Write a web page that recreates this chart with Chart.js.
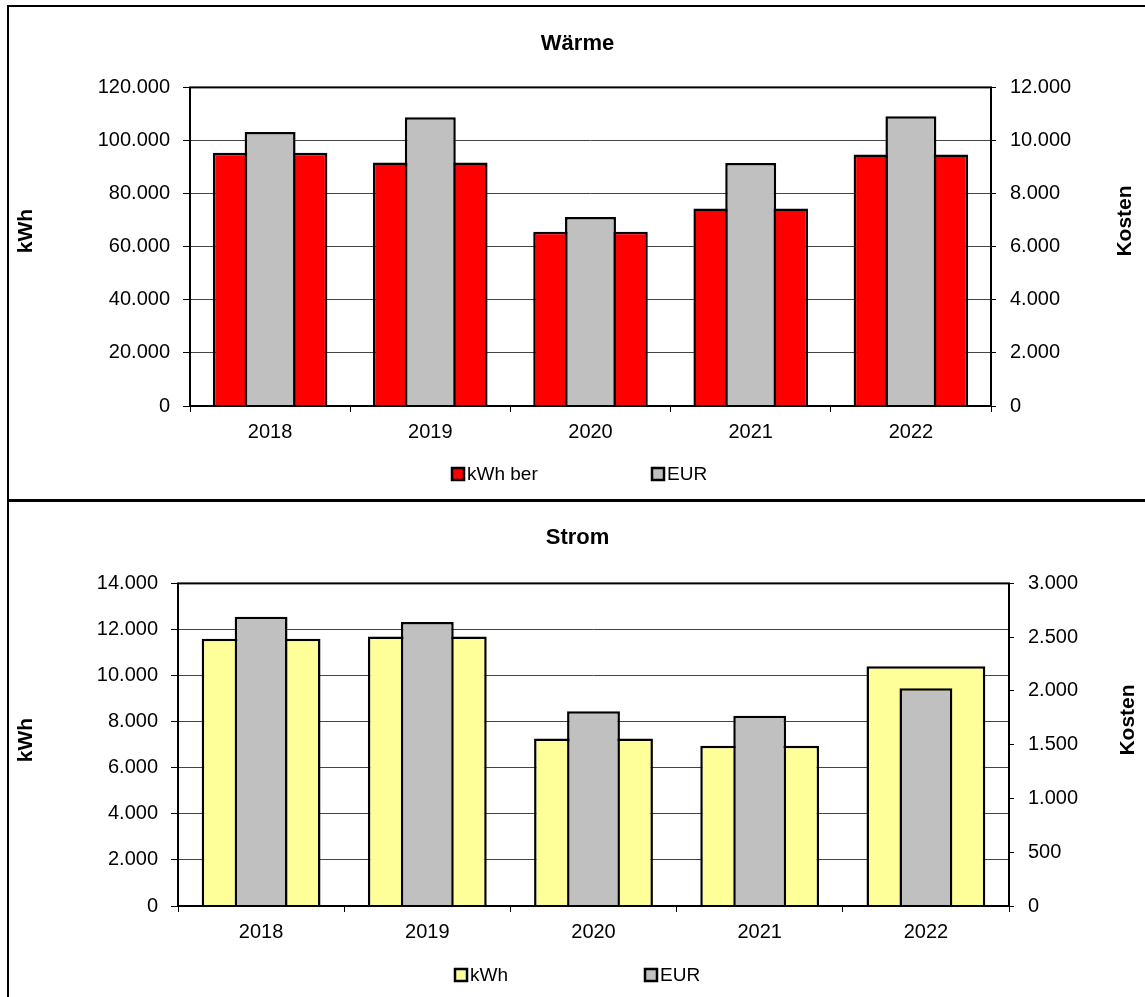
<!DOCTYPE html>
<html>
<head>
<meta charset="utf-8">
<script src="https://cdn.jsdelivr.net/npm/chart.js@4.4.1/dist/chart.umd.min.js"></script>
<style>
  html, body { margin: 0; padding: 0; background: #fff; overflow: hidden; }
  body { width: 1145px; height: 997px; position: relative; }
  canvas { position: absolute; left: 0; }
  #c1 { top: 0; }
  #c2 { top: 500px; }
  .frame { position: absolute; border: 2px solid #000; box-sizing: border-box; }
</style>
</head>
<body>
<div class="frame" style="left:7px; top:5px; width:1200px; height:497px;"></div>
<div class="frame" style="left:7px; top:499px; width:1200px; height:600px;"></div>
<canvas id="c1" width="1145" height="500"></canvas>
<canvas id="c2" width="1145" height="497"></canvas>
<script>
// data
const years = ["2018", "2019", "2020", "2021", "2022"];
const waermeKwh = [95400, 91700, 65600, 74400, 94700];
const waermeEur = [10320, 10880, 7120, 9150, 10910];
const stromKwh = [11600, 11700, 7270, 6950, 10400];
const stromEur = [2690, 2640, 1810, 1770, 2025];

Chart.defaults.font.family = "'Liberation Sans', Arial, sans-serif";
Chart.defaults.font.size = 20;
Chart.defaults.color = "#000";

// 120000 -> "120.000"
function fmt(v) {
  return String(v).replace(/\B(?=(\d{3})+(?!\d))/g, ".");
}

// frame of the plot area, axis titles and legend like the excel chart
const decor = {
  id: "decor",
  afterDatasetsDraw(chart, args, opts) {
    const ctx = chart.ctx;
    const a = chart.chartArea;
    ctx.save();
    ctx.strokeStyle = "#000";
    ctx.lineWidth = 2;
    ctx.strokeRect(a.left, a.top, a.width, a.height);
    ctx.restore();
  },
  afterDraw(chart, args, opts) {
    const ctx = chart.ctx;
    const a = chart.chartArea;
    [opts.leftTitle, opts.rightTitle].forEach((t) => {
      ctx.save();
      ctx.fillStyle = "#000";
      ctx.font = "bold 21px 'Liberation Sans', Arial, sans-serif";
      ctx.textAlign = "center";
      ctx.textBaseline = "middle";
      ctx.translate(t.x, t.y);
      ctx.rotate(-Math.PI / 2);
      ctx.fillText(t.text, 0, 0);
      ctx.restore();
    });

    // legend
    const y = a.bottom + opts.legendDy;
    ctx.save();
    ctx.font = "19px 'Liberation Sans', Arial, sans-serif";
    ctx.textBaseline = "middle";
    ctx.textAlign = "left";
    chart.data.datasets.forEach((ds, i) => {
      const x = opts.legendX[i];
      ctx.fillStyle = ds.backgroundColor;
      ctx.fillRect(x, y - 6, 12, 12);
      ctx.strokeStyle = "#000";
      ctx.lineWidth = 2.5;
      ctx.strokeRect(x, y - 6, 12, 12);
      ctx.fillStyle = "#000";
      ctx.fillText(ds.label, x + 15, y + 1);
    });
    ctx.restore();
  }
};

function makeChart(id, o) {
  return new Chart(document.getElementById(id), {
    type: "bar",
    data: {
      labels: years,
      datasets: [
        {
          label: o.kwhLabel,
          data: o.kwh,
          backgroundColor: o.kwhColor,
          borderColor: "#000",
          borderWidth: 2.5,
          grouped: false,
          categoryPercentage: 1,
          barPercentage: 0.715,
          yAxisID: "y",
          order: 1,
        },
        {
          label: "EUR",
          data: o.eur,
          backgroundColor: "#C0C0C0",
          borderColor: "#000",
          borderWidth: 2.5,
          grouped: false,
          categoryPercentage: 1,
          barPercentage: 0.318,
          yAxisID: "y1",
          order: 0,
        },
      ],
    },
    options: {
      responsive: false,
      animation: false,
      layout: { padding: { left: 10, right: 0, top: 0, bottom: 0 } },
      plugins: {
        legend: { display: false },
        tooltip: { enabled: false },
        title: {
          display: true,
          text: o.title,
          color: "#000",
          font: { size: 22, weight: "bold" },
          padding: o.titlePadding,
        },
        decor: {
          leftTitle: { text: "kWh", x: 26, y: o.leftTitleY },
          rightTitle: { text: "Kosten", x: o.rightTitleX, y: o.rightTitleY },
          legendDy: o.legendDy,
          legendX: o.legendX,
        },
      },
      scales: {
        x: {
          offset: true,
          border: { display: false },
          grid: { drawOnChartArea: false, offset: true, tickLength: 6, tickColor: "#000" },
          ticks: { padding: 8, color: "#000" },
          afterFit: (s) => { s.height = o.xHeight; },
        },
        y: {
          position: "left",
          min: 0,
          max: o.kwhMax,
          border: { display: false },
          grid: { color: "#444", lineWidth: 1, tickLength: 7, tickColor: "#000" },
          ticks: { stepSize: o.kwhStep, padding: 13, color: "#000", callback: (v) => fmt(v) },
          afterFit: (s) => { s.width = o.leftWidth; },
        },
        y1: {
          position: "right",
          min: 0,
          max: o.eurMax,
          border: { display: false },
          grid: { drawOnChartArea: false, tickLength: 5, tickColor: "#000" },
          ticks: { stepSize: o.eurStep, padding: 14, color: "#000", callback: (v) => fmt(v) },
          afterFit: (s) => { s.width = o.rightWidth; },
        },
      },
    },
    plugins: [decor],
  });
}

makeChart("c1", {
  title: "Wärme",
  kwhLabel: "kWh ber",
  kwh: waermeKwh,
  eur: waermeEur,
  kwhColor: "#FF0000",
  kwhMax: 120000,
  kwhStep: 20000,
  eurMax: 12000,
  eurStep: 2000,
  titlePadding: { top: 31, bottom: 30 },
  xHeight: 94,
  leftWidth: 180,
  rightWidth: 154,
  leftTitleY: 231,
  rightTitleX: 1125,
  rightTitleY: 221,
  legendDy: 68,
  legendX: [452, 652],
});

makeChart("c2", {
  title: "Strom",
  kwhLabel: "kWh",
  kwh: stromKwh,
  eur: stromEur,
  kwhColor: "#FFFF99",
  kwhMax: 14000,
  kwhStep: 2000,
  eurMax: 3000,
  eurStep: 500,
  titlePadding: { top: 25, bottom: 32 },
  xHeight: 91,
  leftWidth: 168,
  rightWidth: 136,
  leftTitleY: 240,
  rightTitleX: 1128,
  rightTitleY: 220,
  legendDy: 69,
  legendX: [455, 645],
});
</script>
</body>
</html>
